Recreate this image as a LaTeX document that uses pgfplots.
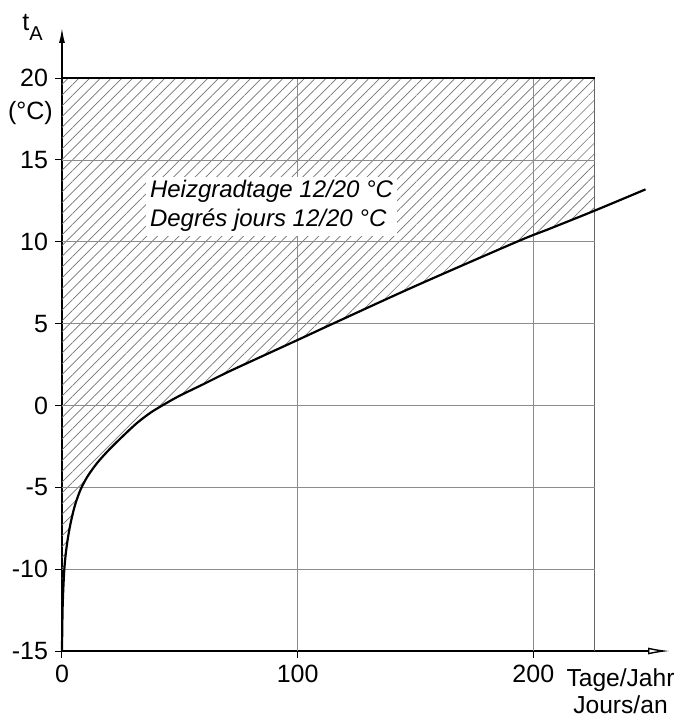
\documentclass[border=0pt]{standalone}
\usepackage{fontspec}
\setmainfont{Liberation Sans}
\usepackage{pgfplots}
\pgfplotsset{compat=1.18}
\usepgfplotslibrary{fillbetween}
\usetikzlibrary{patterns.meta,arrows.meta}

\begin{document}
\begin{tikzpicture}
\begin{axis}[
  scale only axis,
  width=304pt, height=311.5pt,
  xmin=0, xmax=258, ymin=-15, ymax=23.06,
  enlargelimits=false,
  axis lines=left,
  x axis line style={line width=0.7pt, -{Latex[open,length=11pt,width=3.5pt]}},
  y axis line style={line width=0.7pt, -{Latex[length=7.5pt,width=3pt]}},
  xtick={0,100,200},
  ytick={-15,-10,-5,0,5,10,15,20},
  yticklabels={-15,-10,-5,0,5,10,15,20},
  tick align=outside,
  major tick length=3.5pt,
  tick style={black, line width=0.5pt},
  ticklabel style={font=\fontsize{12.5}{14}\selectfont},
  /pgf/number format/assume math mode=true,
  clip=false,
]
% grid, only inside the drawn frame
\draw[black!45, line width=0.4pt] (axis cs:100,-15) -- (axis cs:100,20);
\draw[black!45, line width=0.4pt] (axis cs:200,-15) -- (axis cs:200,20);
\draw[black!60, line width=0.45pt] (axis cs:226,-15) -- (axis cs:226,20);
\draw[black!45, line width=0.4pt] (axis cs:0,-10) -- (axis cs:226,-10);
\draw[black!45, line width=0.4pt] (axis cs:0,-5) -- (axis cs:226,-5);
\draw[black!45, line width=0.4pt] (axis cs:0,0) -- (axis cs:226,0);
\draw[black!45, line width=0.4pt] (axis cs:0,5) -- (axis cs:226,5);
\draw[black!45, line width=0.4pt] (axis cs:0,10) -- (axis cs:226,10);
\draw[black!45, line width=0.4pt] (axis cs:0,15) -- (axis cs:226,15);

\addplot[name path=top, black, line width=0.6pt] coordinates {(0,20) (226,20)};

\addplot[name path=curve, draw=none, smooth, tension=0.5] coordinates {
  (0,-15) (0.3,-12.2) (1,-10) (2,-8.6) (3.5,-7.3) (5.5,-6.1) (8,-5.1)
  (11,-4.3) (15,-3.5) (20,-2.7) (26,-1.85) (32,-1.05) (38,-0.4) (44,0.12)
  (50,0.6) (60,1.3) (72,2.15) (100,4.0) (115,5.0) (150,7.3) (193,10.0)
  (207,10.8) (226,11.9) (247.6,13.2)
};

\addplot[pattern={Lines[angle=45,distance=3.8pt,line width=0.35pt]}, pattern color=black!55]
  fill between[of=top and curve, soft clip={domain=0:226}];

\addplot[black, line width=1.1pt, smooth, tension=0.5] coordinates {
  (0,-15) (0.3,-12.2) (1,-10) (2,-8.6) (3.5,-7.3) (5.5,-6.1) (8,-5.1)
  (11,-4.3) (15,-3.5) (20,-2.7) (26,-1.85) (32,-1.05) (38,-0.4) (44,0.12)
  (50,0.6) (60,1.3) (72,2.15) (100,4.0) (115,5.0) (150,7.3) (193,10.0)
  (207,10.8) (226,11.9) (247.6,13.2)
};

\node[fill=white, inner sep=2pt, anchor=west, align=left,
  font=\fontsize{12}{14.3}\selectfont\itshape] at (axis cs:35.5,12.18)
  {Heizgradtage 12/20 °C\\Degrés jours 12/20 °C};

\node[anchor=base west, inner sep=0pt, font=\fontsize{12.5}{13}\selectfont]
  at (axis cs:-17,22.93) {t\raisebox{-5pt}{\fontsize{10}{10}\selectfont A}};
\node[font=\fontsize{12.5}{13}\selectfont] at (axis cs:-13.4,17.86) {(°C)};
\node[anchor=north, align=center, inner sep=0pt, font=\fontsize{12.3}{13.7}\selectfont]
  at (axis cs:237,-16.05) {Tage/Jahr\\Jours/an};

\coordinate (bl) at (axis cs:-26.3,-18.97);
\coordinate (tr) at (axis cs:262,24.77);
\end{axis}
\pgfresetboundingbox
\path[use as bounding box] (bl) rectangle (tr);
\end{tikzpicture}
\end{document}
